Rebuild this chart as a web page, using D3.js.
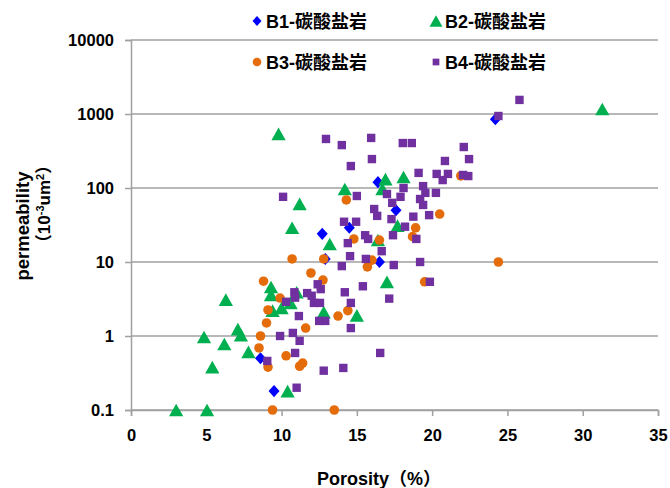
<!DOCTYPE html>
<html><head><meta charset="utf-8">
<script src="https://cdn.jsdelivr.net/npm/d3@7/dist/d3.min.js"></script>
<style>
body{margin:0;background:#fff;}
text{font-family:"Liberation Sans","Noto Sans CJK SC",Arial,sans-serif;font-weight:bold;}
</style></head>
<body><svg id="c" width="670" height="488"></svg>
<script>
const seriesNames = ["B1-碳酸盐岩","B2-碳酸盐岩","B3-碳酸盐岩","B4-碳酸盐岩"];
const xTicks = [0,5,10,15,20,25,30,35];
const yTicks = [0.1,1,10,100,1000,10000];
const yTickLabels = ["0.1","1","10","100","1000","10000"];

const b1Porosity = [24.2,16.4,17.6,14.5,12.7,12.9,16.5,8.6,9.5];
const b1Perm     = [850,120,50,29,24,11,10,0.5,0.18];

const b2Porosity = [31.3,9.8,11.2,10.7,14.2,16.9,18.1,16.7,13.2,17.7,16.4,17.0,15.0,12.8,9.3,9.3,6.3,11.0,10.6,10.0,9.4,7.1,7.3,4.85,6.2,7.8,5.4,10.4,3.0,5.05];
const b2Perm     = [1170,540,61,29,97,132,141,97,17.5,31,19.8,5.4,1.9,2.1,4.6,3.6,3.1,3.9,2.8,2.4,2.2,1.24,1.03,0.97,0.78,0.61,0.38,0.18,0.1,0.1];

const b3Porosity = [21.9,20.5,14.3,18.9,18.7,14.8,16.5,10.7,12.8,16.0,15.7,24.4,11.95,12.75,8.8,19.5,9.9,9.1,14.4,13.75,9.0,11.6,8.6,8.5,10.3,9.1,11.4,11.2,9.4,13.5];
const b3Perm     = [146,44.5,69,29,22,20.5,19.8,11,11,10.6,8.6,10,7.1,5.7,5.5,5.4,3.26,2.25,2.2,1.86,1.5,1.28,1.0,0.69,0.54,0.38,0.43,0.39,0.1,0.1];

const b4Porosity = [25.8,24.4,12.95,14.0,15.95,16.0,14.6,18.05,18.65,22.1,20.85,22.45,19.1,20.3,21.05,20.7,22.05,22.4,18.1,19.4,19.55,20.25,17.0,17.9,17.35,19.2,19.4,16.15,16.35,17.3,18.75,19.8,14.15,14.95,15.0,10.1,18.2,15.55,15.75,17.4,18.95,14.4,16.65,14.55,15.6,14.0,17.45,19.2,19.85,15.4,14.2,14.6,17.15,14.6,16.55,14.1,12.8,9.9,10.75,11.2,10.9,9.05,11.0,10.85,10.9,10.3,11.7,12.0,12.4,12.6,12.15,12.55,11.15,12.5,12.9];
const b4Perm     = [1550,940,460,380,475,246,198,405,405,358,232,246,160,155,155,128,150,145,100,106,86,86,83,76,63,71,59,52,42,38,41,43,35,35,78,76,30,23,20.5,23,20.5,18,14,12,11,8.8,9.1,10,5.4,4.7,3.9,2.8,3.2,1.28,0.59,0.37,0.34,1.0,1.1,0.86,0.59,0.46,0.2,3.9,3.3,2.9,3.8,3.5,5.0,4.3,2.8,2.8,1.86,1.6,1.6];

const colors = ["#0000FF","#00B050","#E46C0A","#7030A0"];

const svg = d3.select("#c");
const x = d3.scaleLinear().domain([0,35]).range([131,658]);
const y = d3.scaleLog().domain([0.1,10000]).range([410,40]);

// gridlines
svg.append("g").selectAll("line").data(yTicks).join("line")
  .attr("x1",131).attr("x2",658).attr("y1",d=>y(d)).attr("y2",d=>y(d))
  .attr("stroke","#a0a0a0").attr("stroke-width",1.5);

// left axis
const ya = svg.append("g").attr("transform","translate(131,0)")
  .call(d3.axisLeft(y).tickValues(yTicks).tickFormat((d,i)=>yTickLabels[i]).tickSize(6).tickPadding(11));
ya.select(".domain").attr("stroke","#a0a0a0").attr("stroke-width",1.5);
ya.selectAll(".tick line").attr("stroke","#a0a0a0").attr("stroke-width",1.5);
ya.selectAll("text").attr("font-size",16.5).attr("fill","#000").style("font-family","Liberation Sans, Arial, sans-serif").style("font-weight","bold");

// bottom axis
const xa = svg.append("g").attr("transform","translate(0,410)")
  .call(d3.axisBottom(x).tickValues(xTicks).tickFormat(d3.format("d")).tickSize(6).tickPadding(13));
xa.select(".domain").attr("stroke","#a0a0a0").attr("stroke-width",1.5);
xa.selectAll(".tick line").attr("stroke","#a0a0a0").attr("stroke-width",1.5);
xa.selectAll("text").attr("font-size",16.5).attr("fill","#000").style("font-family","Liberation Sans, Arial, sans-serif").style("font-weight","bold");

// marker shapes
function shape(kind, s){
  if(kind===0){ const h=s*0.55, w=s*0.5; return `M0,${-h}L${w},0L0,${h}L${-w},0Z`; }
  if(kind===1){ const w=s*0.62, h=s*0.55; return `M0,${-h}L${w},${h}L${-w},${h}Z`; }
  if(kind===2){ const r=s*0.48; return `M${r},0A${r},${r} 0 1,1 ${-r},0A${r},${r} 0 1,1 ${r},0Z`; }
  const a=s*0.42; return `M${-a},${-a}H${a}V${a}H${-a}Z`;
}
const sizes=[11,11.5,10,10];
const all = [[b1Porosity,b1Perm],[b2Porosity,b2Perm],[b3Porosity,b3Perm],[b4Porosity,b4Perm]];
all.forEach((s,k)=>{
  const pts = s[0].map((p,i)=>({p, v:s[1][i]}));
  svg.append("g").selectAll("path").data(pts).join("path")
    .attr("transform",d=>`translate(${x(d.p)},${y(d.v)})`)
    .attr("d",shape(k,sizes[k])).attr("fill",colors[k]);
});

// legend
const legPos=[[257,21],[436,21],[257,62],[436,62]];
const legSizes=[9,10.5,9,8];
seriesNames.forEach((n,k)=>{
  const g=svg.append("g").attr("transform",`translate(${legPos[k][0]},${legPos[k][1]})`);
  g.append("path").attr("d",shape(k,legSizes[k])).attr("fill",colors[k]);
  g.append("text").attr("x",9).attr("y",6.5).attr("font-size",18).attr("fill","#000").text(n);
});

// axis titles
svg.append("text").attr("x",379).attr("y",485).attr("text-anchor","middle").attr("font-size",18).attr("fill","#000").text("Porosity（%）");
svg.append("text").attr("transform","translate(29,226) rotate(-90)").attr("text-anchor","middle").attr("font-size",18.5).attr("fill","#000").text("permeability");
const t2=svg.append("text").attr("transform","translate(50,204) rotate(-90)").attr("text-anchor","middle").attr("font-size",17).attr("fill","#000");
t2.append("tspan").text("（10");
t2.append("tspan").attr("font-size",11).attr("dy",-6).text("-3");
t2.append("tspan").attr("dy",6).text("um");
t2.append("tspan").attr("font-size",11).attr("dy",-6).text("2");
t2.append("tspan").attr("dy",6).text("）");
</script></body></html>
